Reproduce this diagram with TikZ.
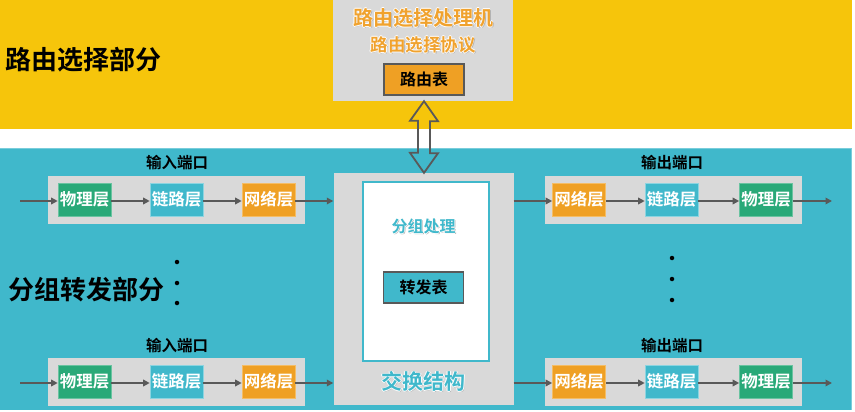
\documentclass[tikz,border=0pt]{standalone}
\usepackage{fontspec}
\setmainfont{Noto Sans CJK SC}[BoldFont={Noto Sans CJK SC Bold}]
\usetikzlibrary{arrows.meta,calc}
\definecolor{bandyellow}{HTML}{F6C50B}
\definecolor{bandteal}{HTML}{40B8CB}
\definecolor{boxgray}{HTML}{D9D9D9}
\definecolor{layergreen}{HTML}{29A978}
\definecolor{layerorange}{HTML}{EFA024}
\definecolor{arrowgray}{HTML}{595959}
\definecolor{titleorange}{HTML}{F0A22E}
\newcommand\glowtxt[2]{\leavevmode
  \rlap{\kern1pt\raisebox{-1pt}{\color{black!30}#2}}%
  \rlap{\kern-0.7pt\color{white}#2}\rlap{\kern0.7pt\color{white}#2}%
  \rlap{\raisebox{0.7pt}{\color{white}#2}}\rlap{\raisebox{-0.7pt}{\color{white}#2}}%
  {\color{#1}#2}}
\tikzset{
  panel/.style={fill=boxgray,draw=none,inner sep=0pt},
  layer/.style={minimum width=53pt,minimum height=33pt,inner sep=0pt,
     font=\fontsize{16.5}{16.5}\selectfont\bfseries,text=white,line width=0.6pt},
  phys/.style={layer,fill=layergreen,draw=layergreen!70!white},
  link/.style={layer,fill=bandteal,draw=bandteal!60!white},
  net/.style={layer,fill=layerorange,draw=layerorange!70!white},
  portlabel/.style={font=\fontsize{15.5}{16}\selectfont\bfseries,text=black,inner sep=0pt},
  bigtitle/.style={font=\fontsize{26}{26}\selectfont\bfseries,text=black,inner sep=0pt},
  flow/.style={draw=arrowgray,line width=1.7pt,-{Triangle[length=6.5pt,width=6.5pt]}},
  tablebox/.style={minimum width=80pt,minimum height=31pt,inner sep=0pt,draw=arrowgray,line width=1.8pt,
     font=\fontsize{16}{16}\selectfont\bfseries,text=black},
  vdot/.style={circle,fill=black,inner sep=0pt,minimum size=4.5pt},
}
\begin{document}
\begin{tikzpicture}[x=1pt,y=-1pt]
\useasboundingbox (0,0) rectangle (855,412);
% bands
\fill[bandyellow] (0,0) rectangle (852,129);
\fill[bandteal] (0,148) rectangle (852,410);
\draw[bandteal!70!white,line width=1pt] (0,148.5) -- (851.5,148.5) -- (851.5,410);
% titles
\node[bigtitle,anchor=west] (rtitle) at (5,60) {路由选择部分};
\node[bigtitle,anchor=west] (ftitle) at (8,290) {分组转发部分};
% routing processor
\node[panel,minimum width=180pt,minimum height=101pt] (rp) at (423,50.5) {};
\node[font=\fontsize{20}{20}\selectfont\bfseries,inner sep=0pt] (rptitle) at (423,18) {\glowtxt{titleorange}{路由选择处理机}};
\node[font=\fontsize{17.5}{18}\selectfont\bfseries,inner sep=0pt] (rproto) at (423,45) {\glowtxt{titleorange}{路由选择协议}};
\node[tablebox,fill=layerorange] (rtable) at (424,79.5) {路由表};
% switch fabric
\node[panel,minimum width=180pt,minimum height=232pt] (sw) at (423.5,289) {};
\node[fill=white,draw=bandteal,line width=1.6pt,minimum width=126pt,minimum height=179pt,inner sep=0pt] (swin) at (426,271.5) {};
\node[font=\fontsize{16}{16}\selectfont\bfseries,inner sep=0pt] (pp) at (423.5,227) {\glowtxt{bandteal}{分组处理}};
\node[tablebox,fill=bandteal] (ftable) at (423.5,287.5) {转发表};
\node[font=\fontsize{21}{21}\selectfont\bfseries,inner sep=0pt] (swtitle) at (423.5,382) {\glowtxt{bandteal}{交换结构}};
% double arrow between processor and fabric
\draw[arrowgray,line width=1.8pt,line join=miter] (rp.south -| 424,0) -- ++(14,20) -- ++(-8,0) -- ++(0,32) -- ++(8,0)
   -- (sw.north -| 424,0) -- ++(-14,-20) -- ++(8,0) -- ++(0,-32) -- ++(-8,0) -- cycle;
% input and output ports
\foreach \n/\y/\ly in {1/199.5/163,2/381.5/346}{
  \node[panel,minimum width=257pt,minimum height=48pt] (inp\n) at (176.5,\y) {};
  \node[portlabel] (inl\n) at (177,\ly) {输入端口};
  \node[phys] (inphys\n) at (84.5,\y) {物理层};
  \node[link] (inlink\n) at (176.5,\y) {链路层};
  \node[net] (innet\n) at (268.5,\y) {网络层};
  \coordinate (src\n) at (20,\y+1.5);
  \draw[flow] (src\n) -- (inphys\n.west |- src\n);
  \draw[flow] (inphys\n.east |- src\n) -- (inlink\n.west |- src\n);
  \draw[flow] (inlink\n.east |- src\n) -- (innet\n.west |- src\n);
  \draw[flow] (innet\n.east |- src\n) -- (sw.west |- src\n);
  \node[panel,minimum width=257pt,minimum height=48pt] (outp\n) at (673.5,\y) {};
  \node[portlabel] (outl\n) at (672,\ly) {输出端口};
  \node[net] (outnet\n) at (579,\y) {网络层};
  \node[link] (outlink\n) at (671.5,\y) {链路层};
  \node[phys] (outphys\n) at (766,\y) {物理层};
  \coordinate (dst\n) at (832,\y+1.5);
  \draw[flow] (sw.east |- dst\n) -- (outnet\n.west |- dst\n);
  \draw[flow] (outnet\n.east |- dst\n) -- (outlink\n.west |- dst\n);
  \draw[flow] (outlink\n.east |- dst\n) -- (outphys\n.west |- dst\n);
  \draw[flow] (outphys\n.east |- dst\n) -- (dst\n);
}
% ellipsis dots
\node[vdot] (ld1) at (177,262) {};
\node[vdot] (ld2) at (177,283) {};
\node[vdot] (ld3) at (177,303) {};
\node[vdot] (rd1) at (672,258) {};
\node[vdot] (rd2) at (672,279) {};
\node[vdot] (rd3) at (672,300) {};
\end{tikzpicture}
\end{document}
